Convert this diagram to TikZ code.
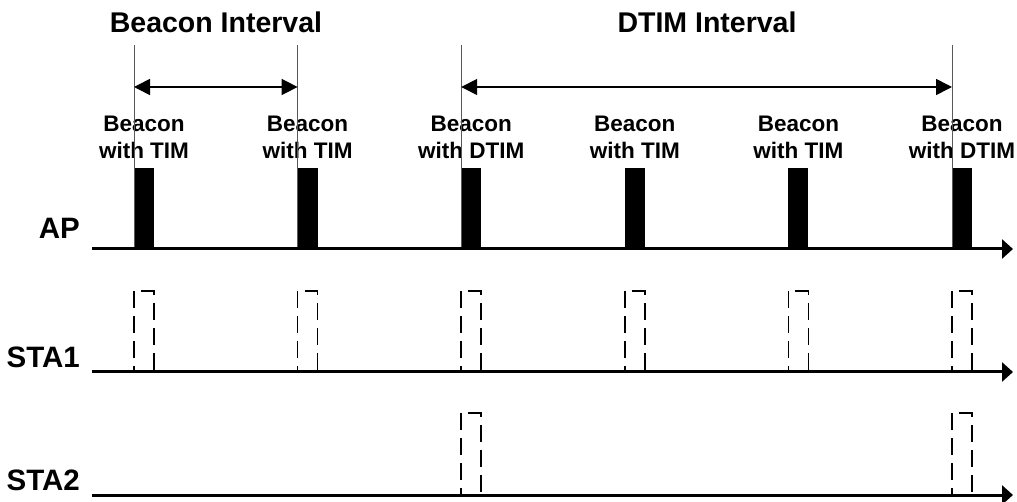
\documentclass[tikz,border=0pt]{standalone}
\usepackage{fontspec}
\setmainfont{Liberation Sans}
\usetikzlibrary{arrows.meta}

\begin{document}
\begin{tikzpicture}[x=1pt,y=-1pt,
    timeline/.style={line width=3pt,-{Triangle[length=11pt,width=19pt]}},
    span/.style={line width=1.6pt,{Triangle[length=16pt,width=16pt]}-{Triangle[length=16pt,width=16pt]}},
    marker/.style={line width=1pt,black!65},
    wake/.style={line width=1.6pt,dash pattern=on 17pt off 8pt},
    beaconlbl/.style={font=\fontsize{22.5}{27}\selectfont\bfseries,align=center,inner sep=0pt},
    rowlbl/.style={font=\fontsize{29.5}{31}\selectfont\bfseries,anchor=east,inner sep=0pt},
    title/.style={font=\fontsize{28.5}{31}\selectfont\bfseries,inner sep=0pt}]
    \useasboundingbox (0,0) rectangle (1017,502);

    % station rows
    \node[rowlbl] (ap) at (80,228) {AP};
    \node[rowlbl] (sta1) at (80,357) {STA1};
    \node[rowlbl] (sta2) at (80,480) {STA2};
    \coordinate (apL) at (92,249);   \coordinate (apR) at (1013,249);
    \coordinate (s1L) at (92,372);   \coordinate (s1R) at (1013,372);
    \coordinate (s2L) at (92,495);   \coordinate (s2R) at (1013,495);

    % beacons, AP bursts and STA1 wake-ups
    \foreach \i/\kind in {0/TIM,1/TIM,2/DTIM,3/TIM,4/TIM,5/DTIM}{
        \pgfmathsetmacro\bx{134+163.6*\i}
        \coordinate (t\i) at (\bx,45);
        \coordinate (m\i) at (\bx,87);
        \fill (\bx,168) rectangle ++(20,81);
        \node[beaconlbl] (bcn\i) at (\bx+10,137) {Beacon\\with \kind};
        \draw[wake] (\bx,291) -- (\bx,372);
        \draw[wake] (\bx+7,291) -- ++(13,0) -- (\bx+20,372);
    }

    % STA2 only wakes for DTIM beacons
    \foreach \i in {2,5}{
        \pgfmathsetmacro\bx{134+163.6*\i}
        \draw[wake] (\bx,413) -- (\bx,495);
        \draw[wake] (\bx+7,413) -- ++(13,0) -- (\bx+20,495);
    }

    % interval markers
    \foreach \i in {0,1,2,5}
        \draw[marker] (t\i) -- (t\i |- apL);
    \draw[span] (m0) -- (m1);
    \draw[span] (m2) -- (m5);
    \node[title] (binterval) at (216,22) {Beacon Interval};
    \node[title] (dinterval) at (707,22) {DTIM Interval};

    \draw[timeline] (apL) -- (apR);
    \draw[timeline] (s1L) -- (s1R);
    \draw[timeline] (s2L) -- (s2R);
\end{tikzpicture}
\end{document}
